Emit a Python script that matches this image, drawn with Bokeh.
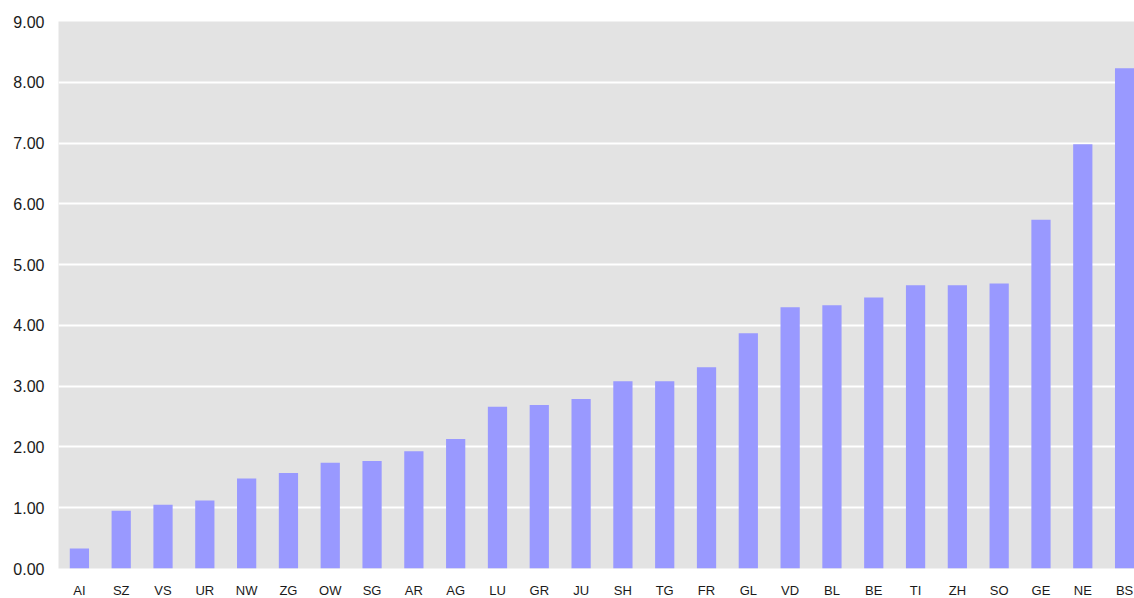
from bokeh.plotting import figure
from bokeh.models import ColumnDataSource, FixedTicker, NumeralTickFormatter, Range1d
from bokeh.embed import file_html
from bokeh.resources import INLINE

cantons = ["AI", "SZ", "VS", "UR", "NW", "ZG", "OW", "SG", "AR", "AG", "LU", "GR", "JU",
           "SH", "TG", "FR", "GL", "VD", "BL", "BE", "TI", "ZH", "SO", "GE", "NE", "BS"]
values = [0.33, 0.95, 1.05, 1.12, 1.48, 1.57, 1.74, 1.77, 1.93, 2.13, 2.66, 2.69, 2.79,
          3.08, 3.08, 3.31, 3.87, 4.30, 4.33, 4.46, 4.66, 4.66, 4.69, 5.74, 6.98, 8.23]
y_ticks = [0, 1, 2, 3, 4, 5, 6, 7, 8, 9]

source = ColumnDataSource(data=dict(x=cantons, top=values))

p = figure(x_range=cantons, y_range=Range1d(0, 9), width=1145, height=600,
           output_backend="svg", toolbar_location=None,
           min_border_left=58, min_border_right=0, min_border_top=21, min_border_bottom=29)

p.vbar(x="x", top="top", width=0.46, source=source, color="#9999FF", line_color=None)

p.background_fill_color = "#E3E3E3"
p.border_fill_color = "white"
p.outline_line_color = None

p.xgrid.grid_line_color = None
p.ygrid.grid_line_color = "white"
p.ygrid.grid_line_width = 2
p.ygrid.ticker = FixedTicker(ticks=y_ticks)

p.yaxis.ticker = FixedTicker(ticks=y_ticks)
p.yaxis.formatter = NumeralTickFormatter(format="0.00")
for ax in (p.xaxis, p.yaxis):
    ax.axis_line_color = None
    ax.major_tick_line_color = None
    ax.minor_tick_line_color = None
    ax.major_tick_out = 0
    ax.major_tick_in = 0
    ax.major_label_text_font = "Liberation Sans"
    ax.major_label_text_color = "#1a1a1a"

p.yaxis.major_label_text_font_size = "16px"
p.yaxis.major_label_standoff = 14
p.xaxis.major_label_text_font_size = "13px"
p.xaxis.major_label_standoff = 14
p.x_range.range_padding = 0

open("out.html", "w").write(file_html(p, INLINE))
